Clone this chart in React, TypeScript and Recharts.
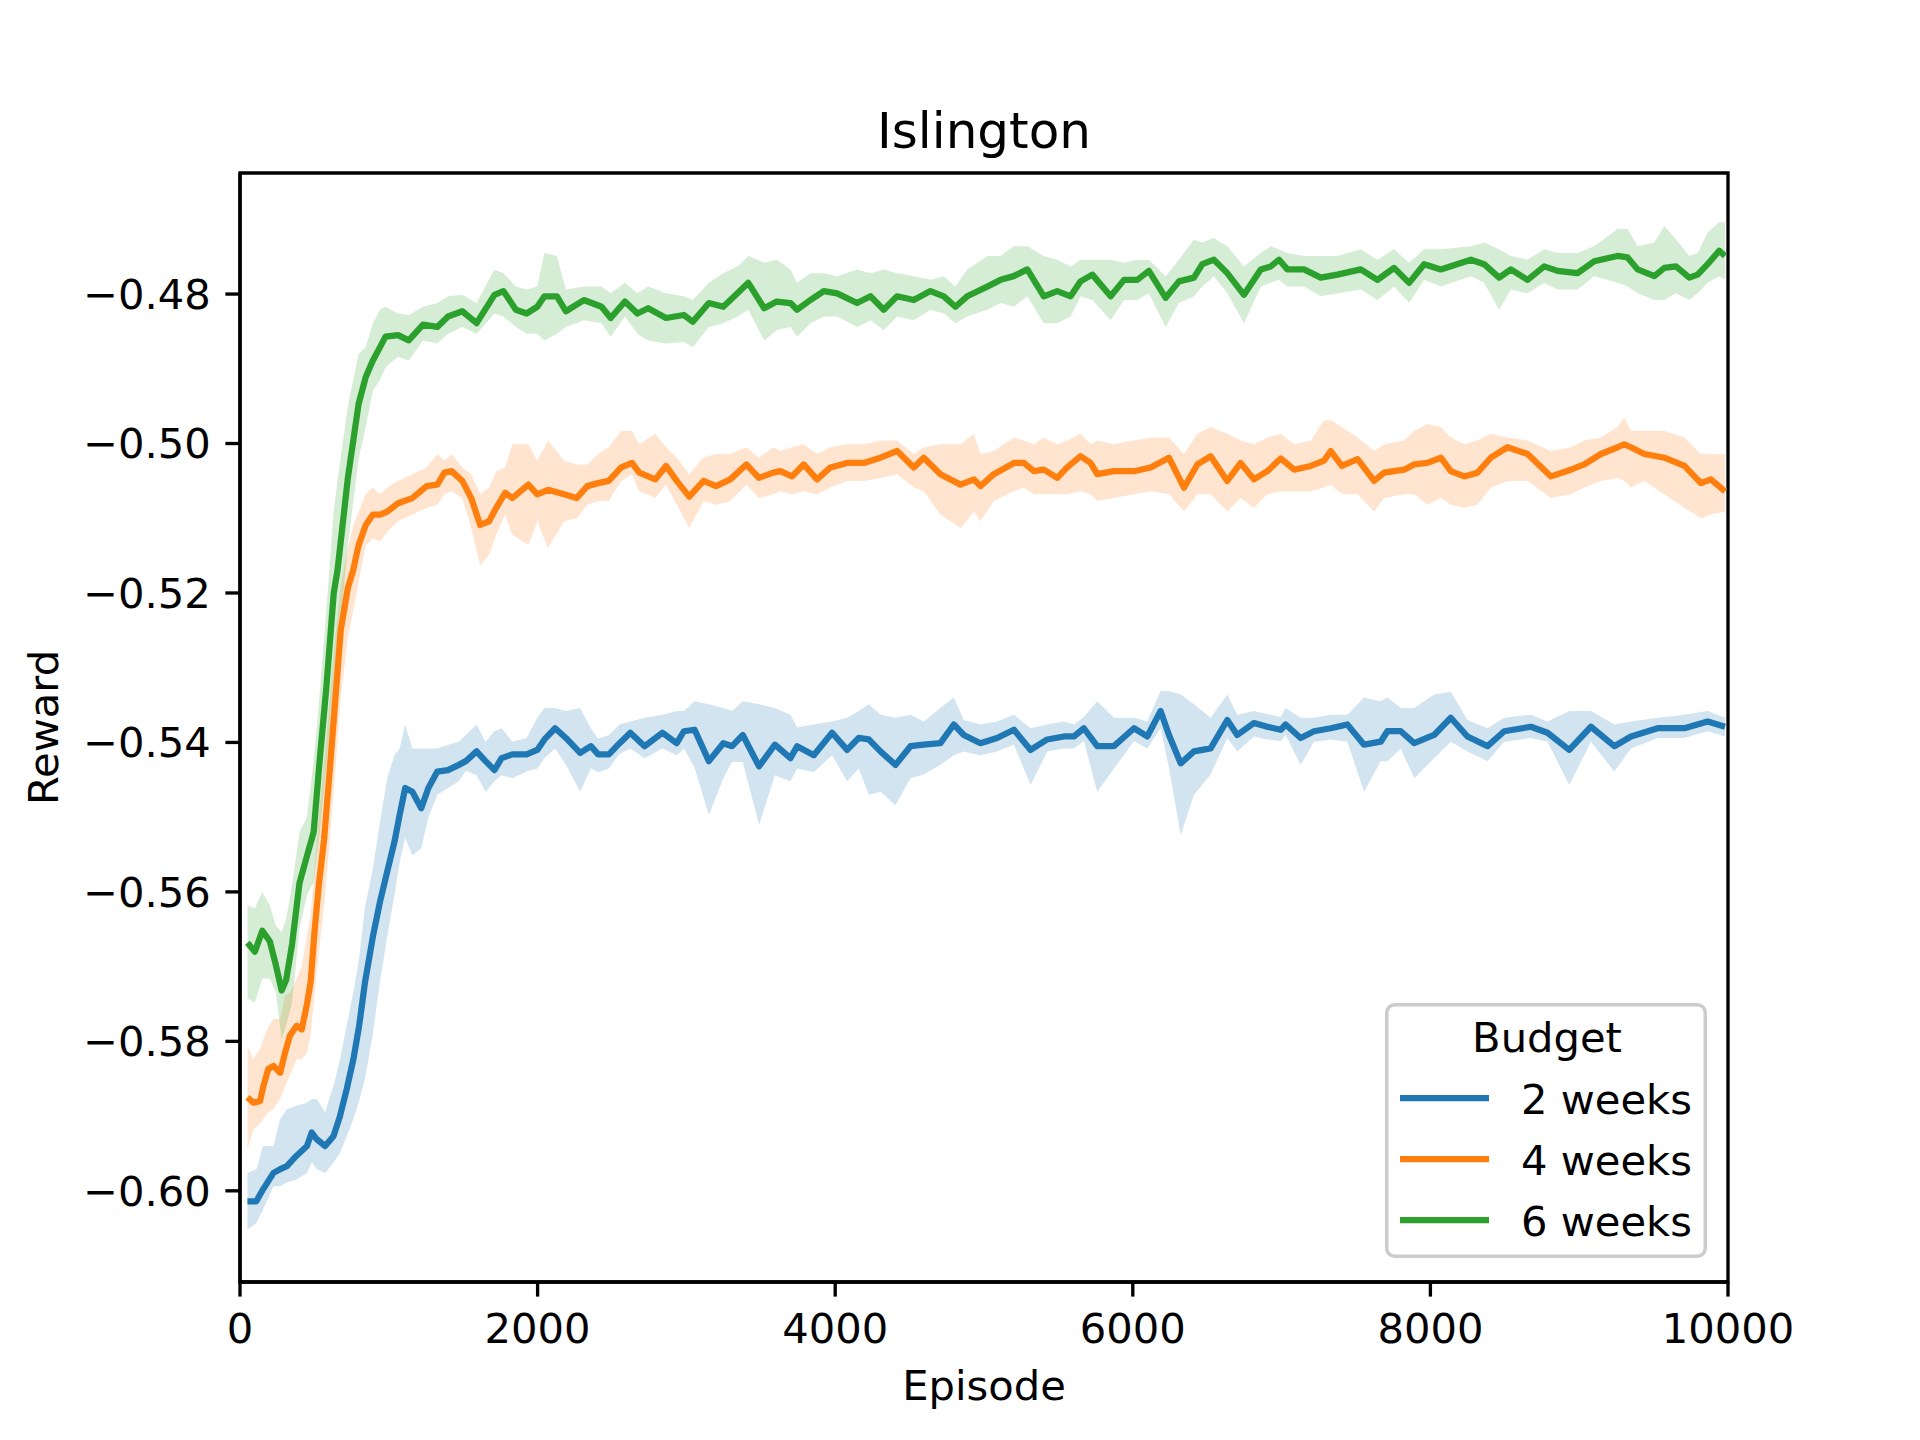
import React from "react";
import {
  ComposedChart,
  Line,
  Area,
  XAxis,
  YAxis,
  Legend,
  ReferenceArea,
} from "recharts";

// readings: [episode, mean reward, band low, band high]
const twoWeeks: [number, number, number, number][] = [
  [50, -0.6014, -0.6052, -0.5976], [110, -0.6014, -0.6043, -0.5971], [155, -0.5998, -0.6025, -0.594],
  [225, -0.5976, -0.5994, -0.594], [270, -0.5971, -0.5994, -0.5904], [315, -0.5967, -0.5989, -0.5891],
  [380, -0.5953, -0.5985, -0.5886], [450, -0.594, -0.5976, -0.5882], [482, -0.5922, -0.5962, -0.5877],
  [516, -0.5931, -0.5971, -0.5877], [572, -0.594, -0.5976, -0.5895], [628, -0.5927, -0.5962, -0.586],
  [672, -0.59, -0.5949, -0.5824], [717, -0.5864, -0.5927, -0.5779], [762, -0.5824, -0.5904, -0.5734],
  [800, -0.578, -0.588, -0.569], [840, -0.5721, -0.585, -0.562], [893, -0.566, -0.579, -0.5569],
  [941, -0.5613, -0.572, -0.5506], [989, -0.5573, -0.566, -0.5448], [1038, -0.5533, -0.5604, -0.5417],
  [1073, -0.5497, -0.556, -0.5408], [1110, -0.5461, -0.5528, -0.5376], [1158, -0.5466, -0.5551, -0.5408],
  [1218, -0.5488, -0.5542, -0.5408], [1266, -0.5461, -0.55, -0.5408], [1326, -0.5439, -0.547, -0.5408],
  [1398, -0.5437, -0.5461, -0.5403], [1470, -0.543, -0.5452, -0.5399], [1518, -0.5425, -0.5438, -0.539],
  [1590, -0.5412, -0.5444, -0.5376], [1650, -0.5425, -0.5466, -0.5399], [1710, -0.5437, -0.5452, -0.5385],
  [1758, -0.5421, -0.5444, -0.5381], [1830, -0.5416, -0.5448, -0.5399], [1926, -0.5416, -0.5439, -0.5394],
  [1998, -0.541, -0.5435, -0.5367], [2046, -0.5396, -0.5421, -0.5354], [2118, -0.5381, -0.5408, -0.5354],
  [2190, -0.5394, -0.543, -0.5358], [2286, -0.5414, -0.5466, -0.5354], [2358, -0.5405, -0.5435, -0.5381],
  [2407, -0.5416, -0.544, -0.5395], [2479, -0.5416, -0.5435, -0.539], [2551, -0.5401, -0.5415, -0.5376],
  [2623, -0.5387, -0.5408, -0.5372], [2719, -0.5405, -0.5421, -0.5367], [2839, -0.5387, -0.5408, -0.5363],
  [2935, -0.5401, -0.5417, -0.5358], [2983, -0.5385, -0.5408, -0.5358], [3055, -0.5383, -0.5434, -0.5345],
  [3151, -0.5425, -0.5497, -0.5349], [3248, -0.5401, -0.5448, -0.5354], [3307, -0.5405, -0.5426, -0.5358],
  [3379, -0.539, -0.5426, -0.5345], [3488, -0.5432, -0.551, -0.5349], [3595, -0.5403, -0.5444, -0.5354],
  [3699, -0.5421, -0.5452, -0.5363], [3744, -0.5405, -0.5435, -0.538], [3856, -0.5417, -0.544, -0.5376],
  [3979, -0.5387, -0.5417, -0.5372], [4080, -0.541, -0.5452, -0.5367], [4158, -0.5394, -0.5435, -0.5358],
  [4226, -0.5396, -0.547, -0.5349], [4304, -0.5412, -0.5466, -0.5363], [4405, -0.543, -0.5484, -0.5367],
  [4506, -0.5405, -0.5448, -0.5363], [4595, -0.5403, -0.5443, -0.5372], [4707, -0.5401, -0.543, -0.5354],
  [4797, -0.5376, -0.5417, -0.534], [4864, -0.539, -0.5412, -0.537], [4976, -0.5401, -0.5417, -0.5376],
  [5088, -0.5394, -0.5412, -0.5372], [5201, -0.5383, -0.5403, -0.5363], [5313, -0.541, -0.5457, -0.5381],
  [5425, -0.5396, -0.5412, -0.5376], [5537, -0.5392, -0.5408, -0.5372], [5604, -0.5392, -0.5408, -0.5376],
  [5671, -0.5381, -0.5398, -0.5366], [5761, -0.5405, -0.5466, -0.5345], [5873, -0.5405, -0.5435, -0.5367],
  [6008, -0.5381, -0.5398, -0.5367], [6097, -0.5392, -0.5408, -0.5372], [6187, -0.5358, -0.5381, -0.5331],
  [6243, -0.539, -0.5434, -0.5331], [6322, -0.5428, -0.5524, -0.5336], [6411, -0.5412, -0.547, -0.5349],
  [6523, -0.5408, -0.5443, -0.5367], [6635, -0.537, -0.5394, -0.5336], [6702, -0.539, -0.5412, -0.5363],
  [6814, -0.5374, -0.5392, -0.5358], [6904, -0.5379, -0.5396, -0.5362], [6994, -0.5383, -0.5398, -0.5366],
  [7027, -0.5376, -0.539, -0.5354], [7128, -0.5394, -0.543, -0.5367], [7218, -0.5385, -0.5399, -0.5367],
  [7330, -0.5381, -0.5396, -0.5363], [7442, -0.5376, -0.5399, -0.5363], [7554, -0.5403, -0.5466, -0.534],
  [7666, -0.5399, -0.5425, -0.5345], [7711, -0.5385, -0.5425, -0.534], [7801, -0.5385, -0.5408, -0.5354],
  [7891, -0.5401, -0.5448, -0.5354], [8025, -0.539, -0.5421, -0.5336], [8137, -0.5367, -0.5399, -0.5332],
  [8249, -0.5392, -0.5412, -0.537], [8384, -0.5405, -0.5425, -0.5381], [8496, -0.5385, -0.5399, -0.5367],
  [8675, -0.5379, -0.5394, -0.5363], [8787, -0.5387, -0.5399, -0.5372], [8933, -0.541, -0.5457, -0.5358],
  [9079, -0.5379, -0.5399, -0.5358], [9236, -0.5405, -0.5439, -0.5376], [9348, -0.5392, -0.5408, -0.5372],
  [9527, -0.5381, -0.5394, -0.5367], [9707, -0.5381, -0.5394, -0.5363], [9863, -0.5372, -0.5385, -0.5358],
  [9980, -0.5379, -0.5392, -0.5367],
];

const fourWeeks: [number, number, number, number][] = [
  [50, -0.5875, -0.5945, -0.5806], [90, -0.5882, -0.5918, -0.5824], [135, -0.588, -0.591, -0.581],
  [157, -0.586, -0.5904, -0.5797], [190, -0.5837, -0.5895, -0.578], [225, -0.5833, -0.589, -0.577],
  [270, -0.5842, -0.5877, -0.577], [303, -0.5815, -0.586, -0.5739], [336, -0.5792, -0.5845, -0.5735],
  [381, -0.5779, -0.5824, -0.5716], [415, -0.5784, -0.5824, -0.57], [450, -0.575, -0.5815, -0.5658],
  [475, -0.572, -0.579, -0.563], [500, -0.5655, -0.574, -0.557], [530, -0.559, -0.568, -0.55],
  [565, -0.553, -0.562, -0.543], [600, -0.5445, -0.554, -0.535], [640, -0.5345, -0.544, -0.526],
  [677, -0.525, -0.534, -0.519], [725, -0.5193, -0.526, -0.514], [760, -0.517, -0.5225, -0.511],
  [797, -0.5136, -0.5185, -0.5091], [845, -0.5109, -0.5136, -0.5068], [893, -0.5095, -0.5127, -0.5059],
  [941, -0.5095, -0.5131, -0.5068], [990, -0.5091, -0.5118, -0.5059], [1062, -0.508, -0.5104, -0.505],
  [1158, -0.5073, -0.5095, -0.5041], [1254, -0.5057, -0.5086, -0.5032], [1326, -0.5055, -0.5082, -0.5014],
  [1374, -0.5039, -0.5068, -0.5023], [1422, -0.5037, -0.5064, -0.5014], [1494, -0.505, -0.5073, -0.5032],
  [1554, -0.5073, -0.5113, -0.5041], [1614, -0.5109, -0.5163, -0.5068], [1674, -0.5104, -0.5149, -0.5059],
  [1722, -0.5086, -0.5122, -0.5037], [1782, -0.5066, -0.5095, -0.5032], [1830, -0.5073, -0.5122, -0.5001],
  [1938, -0.5055, -0.5136, -0.5001], [1998, -0.5068, -0.5104, -0.5023], [2070, -0.5062, -0.514, -0.4996],
  [2178, -0.5068, -0.5104, -0.5023], [2262, -0.5073, -0.51, -0.5028], [2334, -0.5057, -0.5082, -0.5028],
  [2406, -0.5053, -0.5077, -0.5014], [2478, -0.505, -0.5077, -0.5005], [2562, -0.5032, -0.505, -0.4983],
  [2634, -0.5026, -0.5041, -0.4983], [2683, -0.5039, -0.5064, -0.5001], [2791, -0.5048, -0.5073, -0.4987],
  [2863, -0.503, -0.5055, -0.5005], [2935, -0.505, -0.5082, -0.5019], [3019, -0.5071, -0.5113, -0.5041],
  [3115, -0.505, -0.5077, -0.5019], [3199, -0.5057, -0.5082, -0.5014], [3295, -0.5048, -0.5077, -0.5014],
  [3403, -0.5028, -0.5055, -0.5005], [3487, -0.5046, -0.5073, -0.5019], [3583, -0.5039, -0.5068, -0.5005],
  [3631, -0.5037, -0.5064, -0.501], [3710, -0.5044, -0.5068, -0.5005], [3788, -0.5028, -0.5064, -0.5001],
  [3878, -0.5048, -0.5068, -0.5014], [3968, -0.5032, -0.5059, -0.5005], [4080, -0.5026, -0.505, -0.5001],
  [4192, -0.5026, -0.505, -0.5001], [4304, -0.5019, -0.5046, -0.4996], [4416, -0.501, -0.5041, -0.4996],
  [4528, -0.5032, -0.5059, -0.5014], [4595, -0.5019, -0.5064, -0.5005], [4707, -0.5041, -0.5095, -0.5001],
  [4842, -0.5055, -0.5113, -0.5001], [4932, -0.5048, -0.5091, -0.4987], [4976, -0.5057, -0.5104, -0.5014],
  [5066, -0.5041, -0.5077, -0.501], [5201, -0.5026, -0.5064, -0.4992], [5268, -0.5026, -0.5059, -0.4996],
  [5335, -0.5037, -0.5068, -0.5001], [5402, -0.5035, -0.5068, -0.4992], [5492, -0.5046, -0.5068, -0.5001],
  [5559, -0.5032, -0.5068, -0.4996], [5649, -0.5017, -0.5064, -0.4987], [5716, -0.5026, -0.5068, -0.5001],
  [5761, -0.5041, -0.5077, -0.4996], [5873, -0.5037, -0.5073, -0.5001], [6008, -0.5037, -0.5068, -0.4996],
  [6120, -0.5032, -0.5064, -0.4992], [6243, -0.5019, -0.5068, -0.4992], [6344, -0.5059, -0.5091, -0.5014],
  [6434, -0.5028, -0.5068, -0.4987], [6523, -0.5017, -0.5068, -0.4978], [6635, -0.505, -0.5091, -0.4987],
  [6725, -0.5026, -0.5073, -0.4996], [6814, -0.5048, -0.5086, -0.5001], [6904, -0.5037, -0.5068, -0.4992],
  [6994, -0.502, -0.5064, -0.4987], [7084, -0.5035, -0.5064, -0.5001], [7196, -0.503, -0.5064, -0.4996],
  [7285, -0.5023, -0.5059, -0.4969], [7330, -0.501, -0.5055, -0.4969], [7405, -0.503, -0.5068, -0.4978],
  [7510, -0.5021, -0.5068, -0.4992], [7622, -0.505, -0.5091, -0.501], [7689, -0.5039, -0.5073, -0.5001],
  [7823, -0.5035, -0.5068, -0.4996], [7891, -0.5028, -0.5068, -0.4983], [7980, -0.5026, -0.5082, -0.4974],
  [8070, -0.5019, -0.5073, -0.4978], [8137, -0.5037, -0.5082, -0.4992], [8227, -0.5044, -0.5086, -0.5001],
  [8316, -0.5039, -0.5082, -0.4996], [8406, -0.5019, -0.5059, -0.4987], [8518, -0.5005, -0.505, -0.4992],
  [8653, -0.5014, -0.505, -0.4996], [8810, -0.5044, -0.5073, -0.501], [8944, -0.5035, -0.5068, -0.5005],
  [9034, -0.5028, -0.5059, -0.4996], [9146, -0.5014, -0.505, -0.4992], [9258, -0.5005, -0.5046, -0.4978],
  [9303, -0.5001, -0.505, -0.4965], [9347, -0.5005, -0.5059, -0.4983], [9437, -0.5014, -0.505, -0.4983],
  [9572, -0.5019, -0.5068, -0.4983], [9707, -0.503, -0.5086, -0.4992], [9818, -0.5053, -0.51, -0.5014],
  [9885, -0.5048, -0.5095, -0.5014], [9980, -0.5064, -0.5091, -0.5014],
];

const sixWeeks: [number, number, number, number][] = [
  [50, -0.5668, -0.5743, -0.5618], [100, -0.568, -0.5748, -0.5622], [150, -0.5652, -0.5716, -0.56],
  [200, -0.5666, -0.5716, -0.5618], [240, -0.5697, -0.5734, -0.5645], [280, -0.5732, -0.5797, -0.5654],
  [310, -0.5718, -0.5779, -0.5636], [350, -0.567, -0.5748, -0.5591], [400, -0.5588, -0.5649, -0.552],
  [450, -0.5552, -0.5604, -0.55], [495, -0.552, -0.5587, -0.5425], [535, -0.5425, -0.5524, -0.5336],
  [580, -0.5327, -0.5434, -0.5224], [630, -0.52, -0.5336, -0.509], [655, -0.517, -0.529, -0.505],
  [725, -0.5046, -0.5136, -0.495], [797, -0.4947, -0.502, -0.488], [845, -0.4911, -0.4978, -0.4871],
  [893, -0.4889, -0.4929, -0.4839], [941, -0.4871, -0.4915, -0.4821], [978, -0.4857, -0.4898, -0.4817],
  [1062, -0.4855, -0.4884, -0.4826], [1134, -0.4862, -0.4889, -0.4828], [1230, -0.4841, -0.4862, -0.4817],
  [1326, -0.4844, -0.4866, -0.4812], [1398, -0.483, -0.4853, -0.4803], [1494, -0.4823, -0.4844, -0.4801],
  [1590, -0.4839, -0.4853, -0.4812], [1710, -0.4801, -0.4826, -0.4767], [1770, -0.4796, -0.483, -0.4772],
  [1854, -0.4821, -0.4844, -0.479], [1926, -0.4826, -0.4853, -0.4794], [1998, -0.4817, -0.4853, -0.479],
  [2046, -0.4803, -0.4862, -0.4745], [2130, -0.4803, -0.4853, -0.4749], [2190, -0.4823, -0.4844, -0.4794],
  [2311, -0.4808, -0.4835, -0.479], [2430, -0.4817, -0.4839, -0.479], [2491, -0.4832, -0.4857, -0.4799],
  [2587, -0.481, -0.483, -0.4785], [2671, -0.4826, -0.4853, -0.4799], [2743, -0.4819, -0.4862, -0.479],
  [2863, -0.4832, -0.4866, -0.4799], [2983, -0.4828, -0.4864, -0.4803], [3043, -0.4837, -0.4871, -0.4808],
  [3151, -0.4812, -0.4844, -0.4785], [3248, -0.4817, -0.4839, -0.4772], [3343, -0.4799, -0.483, -0.4763],
  [3416, -0.4785, -0.4821, -0.4749], [3523, -0.4819, -0.4862, -0.4758], [3607, -0.481, -0.4848, -0.4754],
  [3699, -0.4812, -0.4844, -0.4767], [3744, -0.4821, -0.4857, -0.4785], [3833, -0.4808, -0.4839, -0.4772],
  [3923, -0.4796, -0.483, -0.4772], [4013, -0.4799, -0.483, -0.4776], [4147, -0.4812, -0.4844, -0.4767],
  [4237, -0.4803, -0.4835, -0.4772], [4326, -0.4821, -0.4848, -0.4767], [4416, -0.4803, -0.483, -0.4772],
  [4528, -0.4808, -0.4835, -0.4776], [4640, -0.4796, -0.4821, -0.4781], [4730, -0.4803, -0.4826, -0.4776],
  [4808, -0.4817, -0.4839, -0.479], [4887, -0.4803, -0.483, -0.4767], [5022, -0.479, -0.4821, -0.4749],
  [5111, -0.4781, -0.4812, -0.4749], [5200, -0.4776, -0.4817, -0.4736], [5291, -0.4767, -0.4803, -0.4736],
  [5402, -0.4803, -0.4839, -0.4749], [5492, -0.4796, -0.4839, -0.4754], [5582, -0.4803, -0.483, -0.4763],
  [5649, -0.4783, -0.4803, -0.4754], [5728, -0.4774, -0.4808, -0.4754], [5851, -0.4803, -0.4835, -0.4754],
  [5941, -0.4781, -0.4808, -0.4758], [6030, -0.4781, -0.4808, -0.4754], [6108, -0.4769, -0.4799, -0.4754],
  [6221, -0.4805, -0.4844, -0.4776], [6310, -0.4783, -0.4812, -0.4754], [6411, -0.4778, -0.4803, -0.4727],
  [6467, -0.476, -0.479, -0.4731], [6545, -0.4754, -0.4776, -0.4725], [6635, -0.4772, -0.4799, -0.4736],
  [6747, -0.4801, -0.4839, -0.4763], [6860, -0.4767, -0.479, -0.4745], [6927, -0.4763, -0.4785, -0.4736],
  [6983, -0.4754, -0.4781, -0.474], [7039, -0.4767, -0.479, -0.4745], [7151, -0.4767, -0.479, -0.4749],
  [7263, -0.4778, -0.4803, -0.4749], [7375, -0.4774, -0.4799, -0.4749], [7532, -0.4767, -0.4794, -0.474],
  [7644, -0.4781, -0.4808, -0.4754], [7756, -0.4765, -0.479, -0.474], [7857, -0.4785, -0.4812, -0.4758],
  [7958, -0.476, -0.4781, -0.474], [8070, -0.4767, -0.479, -0.474], [8272, -0.4754, -0.4776, -0.4736],
  [8361, -0.476, -0.4785, -0.4731], [8462, -0.4778, -0.4821, -0.474], [8541, -0.4767, -0.4794, -0.4749],
  [8653, -0.4781, -0.4799, -0.4754], [8765, -0.4763, -0.4785, -0.474], [8854, -0.4769, -0.4794, -0.4745],
  [8989, -0.4772, -0.4794, -0.4745], [9101, -0.4756, -0.4776, -0.4736], [9258, -0.4749, -0.4785, -0.4713],
  [9325, -0.4751, -0.479, -0.4713], [9393, -0.4767, -0.4799, -0.4736], [9505, -0.4776, -0.4808, -0.4731],
  [9572, -0.4765, -0.4808, -0.4709], [9650, -0.4763, -0.4799, -0.4727], [9740, -0.4778, -0.4808, -0.4749],
  [9796, -0.4774, -0.4799, -0.4745], [9863, -0.476, -0.4785, -0.4718], [9941, -0.4742, -0.4776, -0.4704],
  [9980, -0.4749, -0.4781, -0.4704],
];

const budgetNames = ["2 weeks", "4 weeks", "6 weeks"];
const budgetColors = ["#1f77b4", "#ff7f0e", "#2ca02c"];
const xTicks = [0, 2000, 4000, 6000, 8000, 10000];
const yTicks = [-0.6, -0.58, -0.56, -0.54, -0.52, -0.5, -0.48];

const FONT = '"DejaVu Sans", sans-serif';
const Y_DOMAIN: [number, number] = [-0.6122, -0.4638];
const TICK_FONT = 41.67;

const toRows = (pts: [number, number, number, number][]) =>
  pts.map(([ep, mean, lo, hi]) => ({ ep, mean, band: [lo, hi] }));

const fmtY = (v: number) => (v < 0 ? "\u2212" : "") + Math.abs(v).toFixed(2);

function BudgetLegend() {
  return (
    <svg width={322} height={255} style={{ display: "block" }}>
      <rect
        x={1.75}
        y={1.75}
        width={318.5}
        height={251.5}
        rx={8}
        fill="#fff"
        fillOpacity={0.8}
        stroke="#cccccc"
        strokeWidth={3.5}
      />
      <text x={162} y={49} textAnchor="middle" fontFamily={FONT} fontSize={TICK_FONT} fill="#000">
        Budget
      </text>
      {budgetNames.map((name, i) => (
        <g key={name}>
          <line
            x1={15}
            x2={104}
            y1={95 + i * 61}
            y2={95 + i * 61}
            stroke={budgetColors[i]}
            strokeWidth={6.25}
          />
          <text x={136} y={111 + i * 61} fontFamily={FONT} fontSize={TICK_FONT} fill="#000">
            {name}
          </text>
        </g>
      ))}
    </svg>
  );
}

export default function App() {
  const series = [twoWeeks, fourWeeks, sixWeeks].map((pts, i) => ({
    name: budgetNames[i],
    color: budgetColors[i],
    rows: toRows(pts),
  }));

  const axisStyle = { stroke: "#000", strokeWidth: 3.33 };
  const tickStyle = { fill: "#000", fontSize: TICK_FONT, fontFamily: FONT };

  return (
    <div
      style={{
        position: "absolute",
        left: 0,
        top: 0,
        width: 1920,
        height: 1440,
        background: "#fff",
      }}
    >
      <ComposedChart
        width={1920}
        height={1440}
        margin={{ top: 173, right: 192, bottom: 38, left: 40 }}
      >
        <XAxis
          type="number"
          dataKey="ep"
          domain={[0, 10000]}
          ticks={xTicks}
          interval={0}
          allowDataOverflow
          height={120}
          tickSize={14.6}
          tickMargin={16.5}
          tick={tickStyle}
          tickLine={axisStyle}
          axisLine={axisStyle}
        />
        <YAxis
          type="number"
          domain={Y_DOMAIN}
          ticks={yTicks}
          interval={0}
          allowDataOverflow
          width={200}
          tickSize={14.6}
          tickMargin={14.6}
          tickFormatter={fmtY}
          tick={tickStyle}
          tickLine={axisStyle}
          axisLine={axisStyle}
        />
        {series.map((s) => (
          <Area
            key={s.name + "-band"}
            data={s.rows}
            dataKey="band"
            type="linear"
            stroke="none"
            fill={s.color}
            fillOpacity={0.2}
            isAnimationActive={false}
            legendType="none"
          />
        ))}
        {series.map((s) => (
          <Line
            key={s.name}
            name={s.name}
            data={s.rows}
            dataKey="mean"
            type="linear"
            stroke={s.color}
            strokeWidth={6.25}
            strokeLinejoin="round"
            dot={false}
            activeDot={false}
            isAnimationActive={false}
          />
        ))}
        <ReferenceArea
          x1={0}
          x2={10000}
          y1={Y_DOMAIN[0]}
          y2={Y_DOMAIN[1]}
          fill="none"
          stroke="#000"
          strokeWidth={3.33}
        />
        <Legend
          layout="vertical"
          align="center"
          verticalAlign="middle"
          wrapperStyle={{ position: "absolute", left: 1385, top: 1003, width: 322, height: 255 }}
          content={() => <BudgetLegend />}
        />
      </ComposedChart>
      <svg
        width={1920}
        height={1440}
        style={{ position: "absolute", left: 0, top: 0, pointerEvents: "none" }}
      >
        <text x={984} y={148} textAnchor="middle" fontFamily={FONT} fontSize={50} fill="#000">
          Islington
        </text>
        <text x={984} y={1400} textAnchor="middle" fontFamily={FONT} fontSize={TICK_FONT} fill="#000">
          Episode
        </text>
        <text
          transform="translate(57.5,727.5) rotate(-90)"
          textAnchor="middle"
          fontFamily={FONT}
          fontSize={TICK_FONT}
          fill="#000"
        >
          Reward
        </text>
      </svg>
    </div>
  );
}
